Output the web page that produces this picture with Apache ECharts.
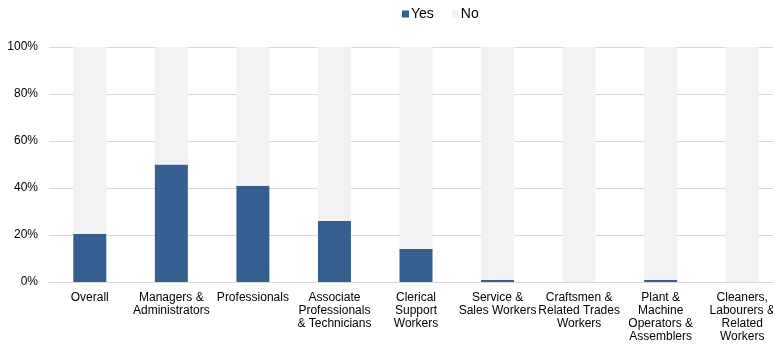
<!DOCTYPE html>
<html>
<head>
<meta charset="utf-8">
<script src="https://cdn.jsdelivr.net/npm/echarts@6/dist/echarts.min.js"></script>
<style>
  html, body { margin: 0; padding: 0; background: #fff; overflow: hidden; }
  #chart { width: 786px; height: 344px; }
</style>
</head>
<body>
<div id="chart"></div>
<script>
// categories and shares (%)
const categories = [
    'Overall',
    'Managers &\nAdministrators',
    'Professionals',
    'Associate\nProfessionals\n& Technicians',
    'Clerical\nSupport\nWorkers',
    'Service &\nSales Workers',
    'Craftsmen &\nRelated Trades\nWorkers',
    'Plant &\nMachine\nOperators &\nAssemblers',
    'Cleaners,\nLabourers &\nRelated\nWorkers'
];
const yesValues = [20.5, 50, 41, 26, 14, 0.8, 0, 0.8, 0];
const noValues = yesValues.map(v => 100 - v);

var chartDom = document.getElementById('chart');
var myChart = echarts.init(chartDom);
var textStyle = { fontFamily: 'Liberation Sans', fontSize: 12, color: '#000' };

var option = {
    animation: false,
    legend: {
        top: 2,
        left: 397,
        icon: 'rect',
        itemWidth: 7,
        itemHeight: 7,
        itemGap: 18,
        textStyle: { fontFamily: 'Liberation Sans', fontSize: 14, color: '#000', padding: [0, 0, 0, -3] },
        data: ['Yes', 'No']
    },
    // the plot runs past the right edge of the 773px window, as in the source
    grid: {
        left: 49,
        top: 47,
        right: 3,
        height: 235
    },
    xAxis: {
        type: 'category',
        data: categories,
        axisTick: { show: false },
        axisLine: { lineStyle: { color: '#d9d9d9' } },
        axisLabel: Object.assign({ interval: 0, margin: 9, lineHeight: 13 }, textStyle)
    },
    yAxis: {
        type: 'value',
        min: 0,
        max: 100,
        interval: 20,
        axisLabel: Object.assign({ formatter: '{value}%', margin: 11 }, textStyle),
        splitLine: { lineStyle: { color: '#d9d9d9' } }
    },
    series: [
        {
            name: 'Yes',
            type: 'bar',
            stack: 'all',
            barWidth: 33,
            itemStyle: { color: '#365f91' },
            data: yesValues
        },
        {
            name: 'No',
            type: 'bar',
            stack: 'all',
            barWidth: 33,
            itemStyle: { color: '#f2f2f2' },
            data: noValues
        }
    ]
};

myChart.setOption(option);
</script>
</body>
</html>
